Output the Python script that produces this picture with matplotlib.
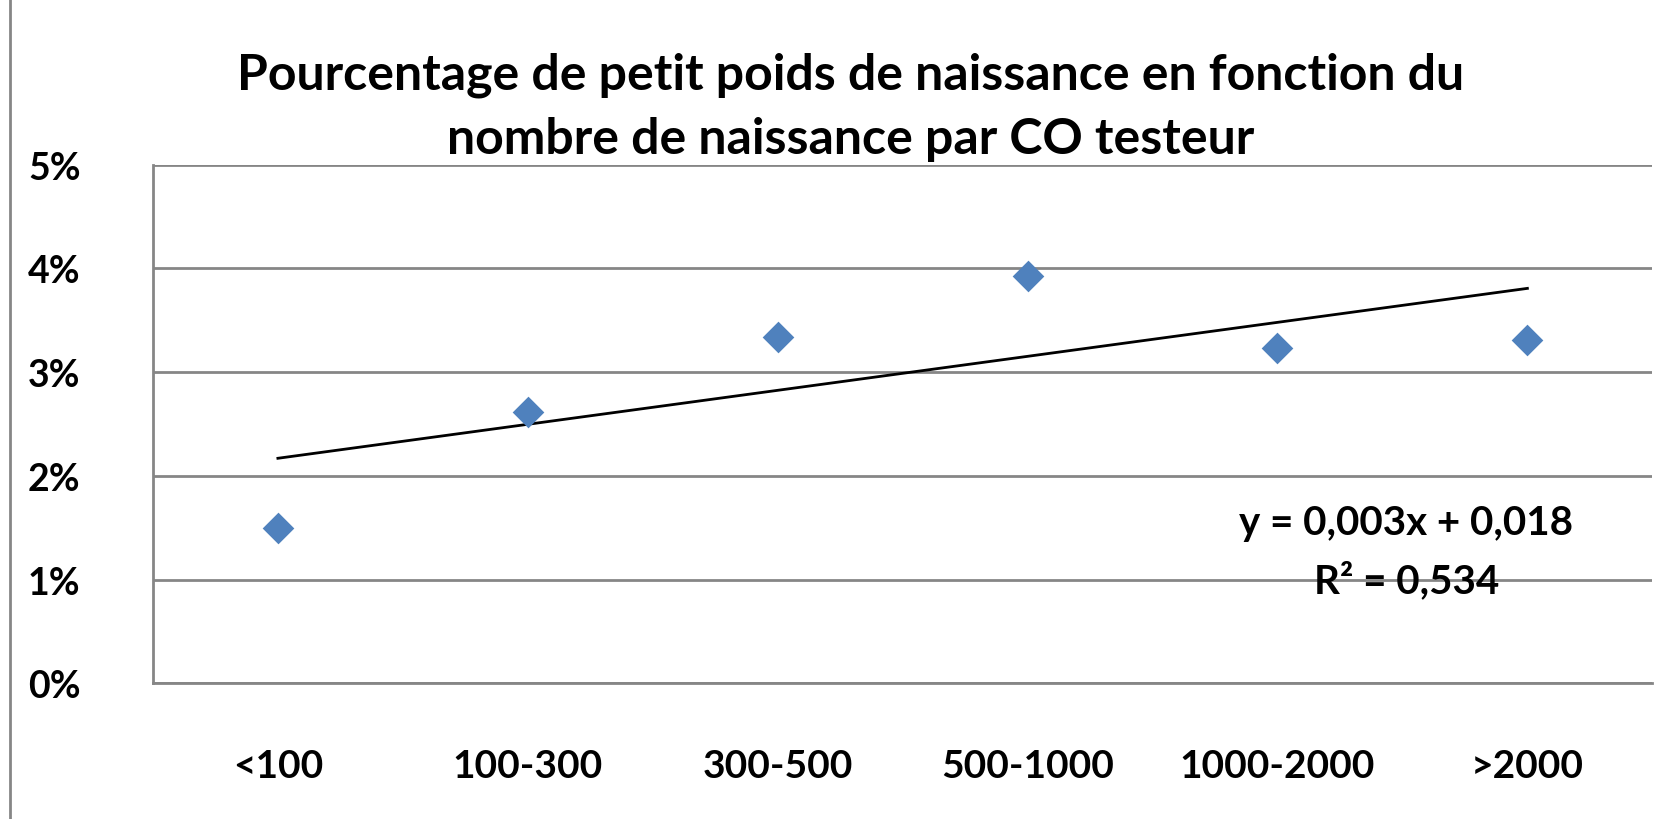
import numpy as np
import matplotlib
matplotlib.use("Agg")
import matplotlib.pyplot as plt
from matplotlib.lines import Line2D

categories = ["<100", "100-300", "300-500", "500-1000", "1000-2000", ">2000"]
values = [0.0150, 0.0262, 0.0334, 0.0393, 0.0323, 0.0331]
y_ticks = [0.0, 0.01, 0.02, 0.03, 0.04, 0.05]
y_tick_labels = ["0%", "1%", "2%", "3%", "4%", "5%"]
title = "Pourcentage de petit poids de naissance en fonction du\nnombre de naissance par CO testeur"
equation = "y = 0,003x + 0,018\nR² = 0,534"

plt.rcParams['font.family'] = ['Lato', 'DejaVu Sans']
plt.rcParams['font.weight'] = 'bold'

fig = plt.figure(figsize=(16.77, 8.20), dpi=100)
ax = fig.add_axes([0.0912, 0.1656, 0.8941, 0.6323])

x = np.arange(1, len(categories) + 1)
ax.scatter(x, values, marker='D', s=260, color='#4F81BD', zorder=3, linewidths=0)

slope, intercept = np.polyfit(x, values, 1)
ax.plot([x[0], x[-1]], [slope * x[0] + intercept, slope * x[-1] + intercept],
        color='black', lw=2, zorder=2)

ax.set_xlim(0.5, len(categories) + 0.5)
ax.set_ylim(0, 0.05)
ax.set_yticks(y_ticks)
ax.set_yticklabels(y_tick_labels, fontsize=27, fontweight='bold')
ax.set_xticks(x)
ax.set_xticklabels(categories, fontsize=28, fontweight='bold')
ax.tick_params(axis='both', length=0)
ax.tick_params(axis='x', pad=47)
for lab in ax.get_yticklabels():
    lab.set_horizontalalignment('left')
ax.yaxis.set_tick_params(pad=90)

ax.grid(axis='y', color='#868686', lw=2)
ax.set_axisbelow(True)
for s in ['top', 'right']:
    ax.spines[s].set_visible(False)
for s in ['left', 'bottom']:
    ax.spines[s].set_color('#868686')
    ax.spines[s].set_linewidth(2)

ax.text(5.515, 0.0127, equation, ha='center', va='center', fontsize=29,
        fontweight='bold', linespacing=1.6)

fig.text(0.507, 0.869, title, ha='center', va='center', fontsize=36,
         fontweight='bold', linespacing=1.5)

fig.add_artist(Line2D([0.006, 0.006], [0.0, 1.0], color='#868686', lw=2,
                      transform=fig.transFigure))

fig.savefig("out.png", dpi=100)
